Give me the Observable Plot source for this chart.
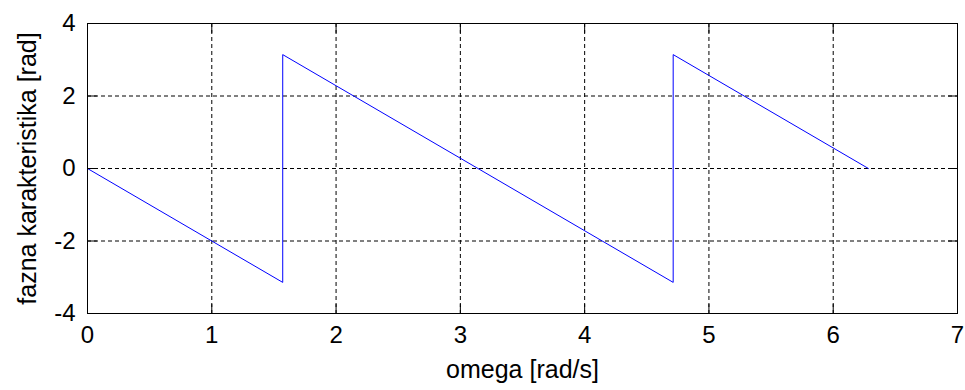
<!DOCTYPE html>
<html>
<head>
<meta charset="utf-8">
<script src="https://cdn.jsdelivr.net/npm/d3@7"></script>
<script src="https://cdn.jsdelivr.net/npm/@observablehq/plot@0.6"></script>
<style>
  html, body { margin: 0; padding: 0; background: #fff; }
  #chart svg { display: block; }
</style>
</head>
<body>
<div id="chart"></div>
<script>
// Data
const omega = [0, 1.5708, 1.5708, 4.7124, 4.7124, 6.2832];
const phase = [0, -3.1416, 3.1416, -3.1416, 3.1416, 0];
const xTicks = [0, 1, 2, 3, 4, 5, 6, 7];
const yTicks = [-4, -2, 0, 2, 4];
const xGrid = [1, 2, 3, 4, 5, 6];
const yGrid = [-2, 0, 2];
const xLabel = "omega [rad/s]";
const yLabel = "fazna karakteristika [rad]";

const data = omega.map((w, i) => ({omega: w, phase: phase[i]}));
const fmt = d => String(d);
const font = "'Liberation Sans', Arial, sans-serif";
const tickLen = 9;
const tickShape = {draw(context, l) { context.moveTo(0, 0); context.lineTo(0, -l); }};
const tickOpts = {length: tickLen, anchor: "start", shape: tickShape, stroke: "#000", strokeWidth: 1};

const chart = Plot.plot({
  width: 965,
  height: 390,
  marginLeft: 87,
  marginRight: 8,
  marginTop: 23,
  marginBottom: 77,
  style: {fontFamily: font, background: "#fff", color: "#000", overflow: "visible"},
  x: {domain: [0, 7]},
  y: {domain: [-4, 4]},
  marks: [
    Plot.gridX(xGrid, {stroke: "#000", strokeOpacity: 1, strokeDasharray: "4,3", strokeWidth: 1}),
    Plot.gridY(yGrid, {stroke: "#000", strokeOpacity: 1, strokeDasharray: "4,3", strokeWidth: 1}),
    Plot.line(data, {x: "omega", y: "phase", stroke: "#0000ff", strokeWidth: 1}),
    Plot.frame({stroke: "#000", strokeWidth: 1}),
    // inward ticks on all four sides
    Plot.vector(xTicks, {x: d => d, frameAnchor: "bottom", rotate: 0, ...tickOpts}),
    Plot.vector(xTicks, {x: d => d, frameAnchor: "top", rotate: 180, ...tickOpts}),
    Plot.vector(yTicks, {y: d => d, frameAnchor: "left", rotate: 90, ...tickOpts}),
    Plot.vector(yTicks, {y: d => d, frameAnchor: "right", rotate: -90, ...tickOpts}),
    // tick labels
    Plot.axisX(xTicks, {anchor: "bottom", tickSize: 0, tickPadding: 12, tickFormat: fmt, fontSize: 24, label: null}),
    Plot.axisY(yTicks, {anchor: "left", tickSize: 0, tickPadding: 12, tickFormat: fmt, fontSize: 24, label: null}),
    // axis titles
    Plot.text([xLabel], {frameAnchor: "bottom", dy: 64, lineAnchor: "bottom", textAnchor: "middle", fontSize: 25, fill: "#000"}),
    Plot.text([yLabel], {frameAnchor: "left", dx: -52, rotate: -90, lineAnchor: "bottom", textAnchor: "middle", fontSize: 25, fill: "#000"})
  ]
});
document.getElementById("chart").appendChild(chart);
</script>
</body>
</html>
